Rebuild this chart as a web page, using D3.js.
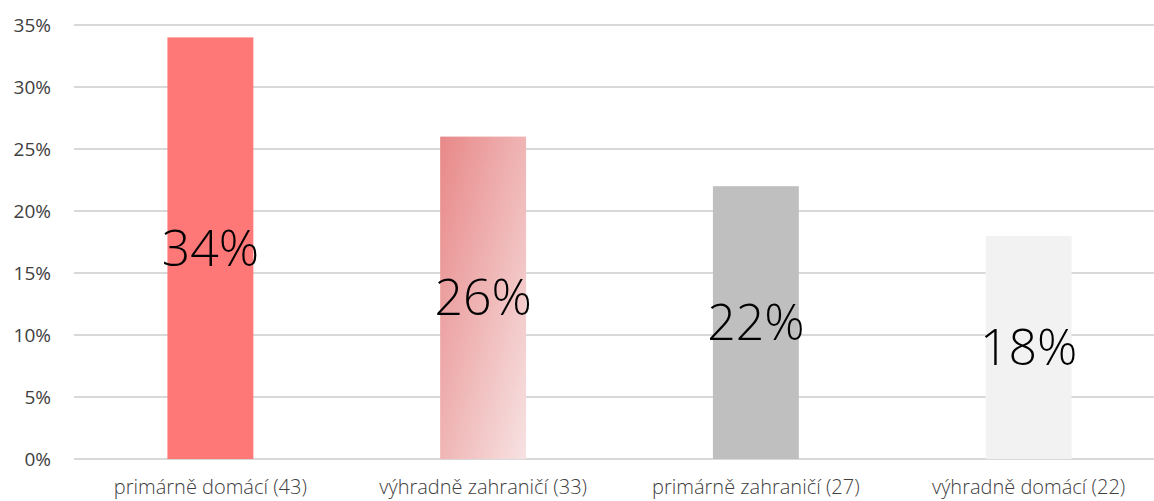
<!DOCTYPE html>
<html>
<head>
<meta charset="utf-8">
<script src="https://cdn.jsdelivr.net/npm/d3@7"></script>
<style>
	body { margin: 0; background: #fff; }
	svg { display: block; font-family: "Open Sans", sans-serif; }
</style>
</head>
<body>
<script>
const categories = ["primárně domácí (43)", "výhradně zahraničí (33)", "primárně zahraničí (27)", "výhradně domácí (22)"];
const shares = [34, 26, 22, 18];
const yTicks = [0, 5, 10, 15, 20, 25, 30, 35];

function constructChart() {
	const width = 1154;
	const height = 501;

	const scaleX = d3.scaleBand()
		.domain(categories)
		.range([74, 1165])
		.paddingInner(0.685)
		.paddingOuter(0.3425);

	const scaleY = d3.scaleLinear().domain([0, 35]).range([459, 25]);

	const svg = d3.select("body")
		.append("svg")
		.attr("width", width)
		.attr("height", height);

	const defs = svg.append("defs");
	const grad = defs.append("linearGradient")
		.attr("id", "fade")
		.attr("x1", 0).attr("y1", 0)
		.attr("x2", 1).attr("y2", 1);
	grad.append("stop").attr("offset", "0%").attr("stop-color", "#e88888");
	grad.append("stop").attr("offset", "100%").attr("stop-color", "#f7e2e2");

	const fills = ["#ff7878", "url(#fade)", "#bfbfbf", "#f2f2f2"];

	// gridlines
	svg.append("g")
		.selectAll("line")
		.data(yTicks)
		.join("line")
		.attr("x1", 74)
		.attr("x2", width)
		.attr("y1", d => scaleY(d))
		.attr("y2", d => scaleY(d))
		.attr("stroke", "#d9d9d9")
		.attr("stroke-width", 2);

	// y labels
	svg.append("g")
		.selectAll("text")
		.data(yTicks)
		.join("text")
		.attr("x", 51)
		.attr("y", d => scaleY(d))
		.attr("dy", "0.35em")
		.attr("text-anchor", "end")
		.attr("fill", "#404040")
		.style("font-size", "19px")
		.text(d => d + "%");

	// bars
	svg.append("g")
		.selectAll("rect")
		.data(shares)
		.join("rect")
		.attr("x", (d, i) => scaleX(categories[i]))
		.attr("y", d => scaleY(d))
		.attr("width", scaleX.bandwidth())
		.attr("height", d => scaleY(0) - scaleY(d))
		.attr("fill", (d, i) => fills[i]);

	// value labels
	svg.append("g")
		.selectAll("text")
		.data(shares)
		.join("text")
		.attr("x", (d, i) => scaleX(categories[i]) + scaleX.bandwidth() / 2)
		.attr("y", d => (scaleY(d) + scaleY(0)) / 2)
		.attr("dy", "0.35em")
		.attr("text-anchor", "middle")
		.attr("fill", "#000")
		.style("font-size", "50px")
		.style("font-weight", 300)
		.text(d => d + "%");

	// category labels
	svg.append("g")
		.selectAll("text")
		.data(categories)
		.join("text")
		.attr("x", d => scaleX(d) + scaleX.bandwidth() / 2)
		.attr("y", 494)
		.attr("text-anchor", "middle")
		.attr("fill", "#404040")
		.style("font-size", "20px")
		.style("font-weight", 300)
		.text(d => d);
}

constructChart();
</script>
</body>
</html>
